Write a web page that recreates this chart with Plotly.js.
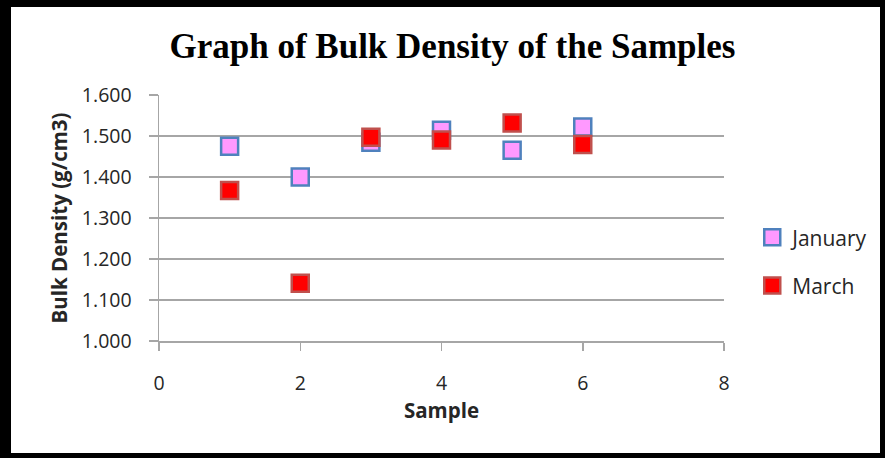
<!DOCTYPE html>
<html>
<head>
<meta charset="utf-8">
<script src="https://cdn.plot.ly/plotly-3.0.1.min.js"></script>
<style>
html,body{margin:0;padding:0;background:#fff;}
#wrap{position:absolute;left:0;top:0;width:869px;height:446px;border-style:solid;border-color:#000;border-width:7px 5px 5px 11px;}
#chart{width:869px;height:446px;}
</style>
</head>
<body>
<div id="wrap"><div id="chart"></div></div>
<script>
var samples = [1, 2, 3, 4, 5, 6];
var january = [1.475, 1.400, 1.485, 1.514, 1.465, 1.522];
var march = [1.367, 1.141, 1.497, 1.490, 1.532, 1.479];
var yTicks = [1.0, 1.1, 1.2, 1.3, 1.4, 1.5, 1.6];
var xTicks = [0, 2, 4, 6, 8];

var sans = 'Open Sans, Noto Sans, sans-serif';
var tickFont = {family: sans, size: 19.5, color: '#262626'};

var traces = [
  {x: samples, y: january, name: 'January', type: 'scatter', mode: 'markers',
   legendgroup: 'a',
   marker: {symbol: 'square', size: 17, color: '#ff99ff', line: {color: '#4f81bd', width: 2.5}}},
  {x: samples, y: march, name: 'March', type: 'scatter', mode: 'markers',
   legendgroup: 'b',
   marker: {symbol: 'square', size: 17, color: '#ff0000', line: {color: '#c0504d', width: 2.5}}}
];

var layout = {
  width: 869, height: 446,
  margin: {l: 148, r: 156, t: 88, b: 112, autoexpand: false},
  paper_bgcolor: '#ffffff', plot_bgcolor: '#ffffff',
  title: {text: '<b>Graph of Bulk Density of the Samples</b>',
          font: {family: 'Liberation Serif, Times New Roman, serif', size: 35, color: '#000'},
          x: 0.508, xanchor: 'center', y: 0.912, yanchor: 'middle', xref: 'container', yref: 'container'},
  xaxis: {range: [0, 8], tickvals: xTicks, ticktext: xTicks.map(String),
          showgrid: false, zeroline: false, showline: true, linecolor: '#a6a6a6', linewidth: 1.5,
          ticks: 'outside', ticklen: 8, tickcolor: '#a6a6a6', tickwidth: 1.5,
          ticklabelstandoff: 16, tickfont: tickFont,
          title: {text: '<b>Sample</b>', font: {family: sans, size: 20.5, color: '#262626'}, standoff: 7}},
  yaxis: {range: [1.0, 1.6], tickvals: yTicks, tickformat: '.3f',
          showgrid: true, gridcolor: '#a6a6a6', gridwidth: 1.5, zeroline: false,
          showline: true, linecolor: '#a6a6a6', linewidth: 1.5,
          ticks: 'outside', ticklen: 9, tickcolor: '#a6a6a6', tickwidth: 1.5,
          ticklabelstandoff: 13, tickfont: tickFont,
          title: {text: '<b>Bulk Density (g/cm3)</b>', font: {family: sans, size: 20.5, color: '#262626'}, standoff: 8}},
  showlegend: true,
  legend: {xref: 'container', yref: 'container', x: 0.853, xanchor: 'left', y: 0.429, yanchor: 'middle',
           traceorder: 'grouped', tracegroupgap: 18,
           font: {family: sans, size: 21, color: '#262626'},
           itemwidth: 30, bgcolor: 'rgba(0,0,0,0)'}
};

Plotly.newPlot('chart', traces, layout, {displayModeBar: false, staticPlot: true});
</script>
</body>
</html>
